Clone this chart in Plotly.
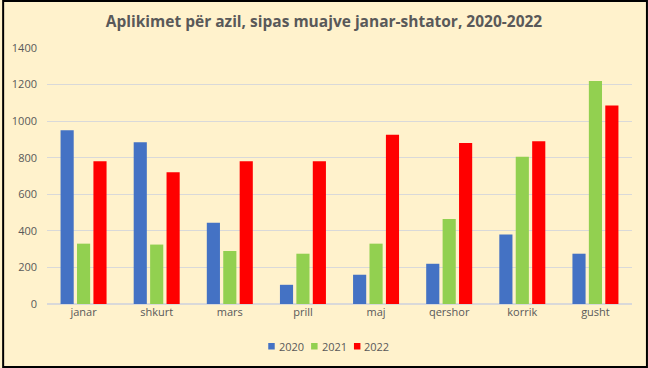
import plotly.graph_objects as go

months = ["janar", "shkurt", "mars", "prill", "maj", "qershor", "korrik", "gusht"]
v2020 = [950, 885, 445, 105, 160, 220, 380, 275]
v2021 = [330, 325, 290, 275, 330, 465, 805, 1220]
v2022 = [780, 720, 780, 780, 925, 880, 890, 1085]
series_names = ["2020", "2021", "2022"]
colors = ["#4472C4", "#92D050", "#FF0000"]

W, H = 648, 368
L, R, T, B = 45, 16, 48, 64
pw = W - L - R
ph = H - T - B


def px_x(x):
    return (x - L) / pw


def px_y(y):
    return (H - B - y) / ph


fig = go.Figure()
for name, vals, c in zip(series_names, [v2020, v2021, v2022], colors):
    fig.add_trace(go.Bar(x=months, y=vals, name=name, marker_color=c,
                         marker_line_width=0, showlegend=False))

# outer border
fig.add_shape(type="rect", xref="paper", yref="paper",
              x0=px_x(1), x1=px_x(W - 1), y0=px_y(H - 1), y1=px_y(1),
              line=dict(color="#000000", width=2), fillcolor="rgba(0,0,0,0)", layer="above")

# legend (small squares + text)
leg_x0 = 267
step = 43
for i, (name, c) in enumerate(zip(series_names, colors)):
    sx = leg_x0 + i * step
    fig.add_shape(type="rect", xref="paper", yref="paper",
                  x0=px_x(sx), x1=px_x(sx + 6.5), y0=px_y(349.5), y1=px_y(343),
                  line=dict(width=0), fillcolor=c)
    fig.add_annotation(xref="paper", yref="paper", x=px_x(sx + 8.5), y=px_y(346.5),
                       text=name, showarrow=False, xanchor="left", yanchor="middle",
                       font=dict(size=11, color="#595959"))

fig.update_layout(
    width=W, height=H,
    margin=dict(l=L, r=R, t=T, b=B),
    paper_bgcolor="#FFF2CC", plot_bgcolor="#FFF2CC",
    barmode="group", bargap=0.326, bargroupgap=0.2,
    font=dict(family="Open Sans, Liberation Sans, sans-serif", size=11, color="#595959"),
    title=dict(text="<b>Aplikimet për azil, sipas muajve janar-shtator, 2020-2022</b>",
               x=0.5, xanchor="center", y=1 - 22 / H, yanchor="middle",
               font=dict(size=15.5, color="#595959")),
    yaxis=dict(range=[0, 1400], dtick=200, gridcolor="#D9D9D9", gridwidth=1,
               zeroline=True, zerolinecolor="#D9D9D9", showline=False,
               tickfont=dict(size=11, color="#595959"), ticklabelstandoff=9),
    xaxis=dict(showline=False, tickfont=dict(size=11, color="#595959")),
    showlegend=False,
)
fig.write_html("out.html", config={"displayModeBar": False},
               post_script="document.body.style.margin='0';document.body.style.padding='0';")
